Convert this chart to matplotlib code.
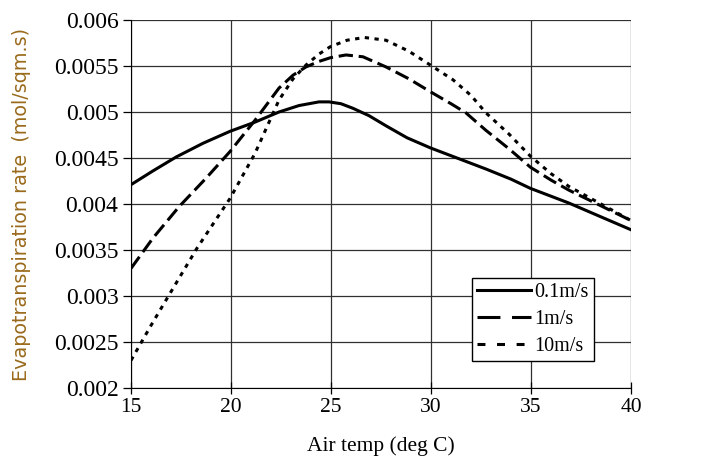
import matplotlib
matplotlib.use("Agg")
import matplotlib.pyplot as plt
from matplotlib.lines import Line2D

x_01 = [15, 16.1, 17.25, 18.6, 19.95, 21.2, 22.4, 23.4, 24.4, 24.9, 25.5, 26.1, 26.9, 27.75, 28.8, 29.97, 31.3, 32.75, 34.0, 34.97, 36.9, 38.5, 40]
y_01 = [0.00421, 0.00436, 0.00451, 0.00466, 0.00479, 0.00489, 0.00500, 0.00507, 0.00511, 0.00511, 0.00509, 0.00504, 0.00496, 0.00485, 0.00472, 0.00461, 0.00450, 0.00438, 0.00427, 0.00417, 0.00401, 0.00386, 0.00372]

x_1 = [15, 16.1, 17.4, 18.75, 19.95, 21.2, 22.4, 23.1, 23.75, 24.4, 24.97, 25.75, 26.6, 27.75, 28.9, 29.97, 31.0, 31.75, 32.75, 33.9, 34.97, 36.0, 36.9, 38.5, 40]
y_1 = [0.00330, 0.00363, 0.00397, 0.00428, 0.00457, 0.00491, 0.00526, 0.00540, 0.00549, 0.00555, 0.00559, 0.00562, 0.00560, 0.00549, 0.00536, 0.00522, 0.00509, 0.00499, 0.00480, 0.00460, 0.00440, 0.00426, 0.00415, 0.00398, 0.00382]

x_10 = [15, 16.0, 16.9, 18.3, 19.95, 21.2, 22.4, 23.1, 23.75, 24.4, 24.97, 25.8, 26.67, 27.75, 28.9, 29.97, 31.1, 32.0, 32.75, 33.9, 34.97, 36.0, 36.9, 38.5, 40]
y_10 = [0.00230, 0.00268, 0.00301, 0.00352, 0.00406, 0.00455, 0.00513, 0.00536, 0.00551, 0.00563, 0.00571, 0.00578, 0.00581, 0.00578, 0.00566, 0.00551, 0.00535, 0.00518, 0.00499, 0.00476, 0.00452, 0.00433, 0.00419, 0.00400, 0.00382]

labels = ["0.1m/s", "1m/s", "10m/s"]
x_ticks = [15, 20, 25, 30, 35, 40]
y_ticks = [0.002, 0.0025, 0.003, 0.0035, 0.004, 0.0045, 0.005, 0.0055, 0.006]
y_tick_labels = ["0.002", "0.0025", "0.003", "0.0035", "0.004", "0.0045", "0.005", "0.0055", "0.006"]

serif = "Liberation Serif"
LW = 2.2

fig = plt.figure(figsize=(7.08, 4.68), dpi=100)
ax = fig.add_axes([131/708, 1-388/468, 500/708, 368/468])

ax.plot(x_01, y_01, color="black", lw=LW, ls="-")
ax.plot(x_1, y_1, color="black", lw=LW, ls=(0, (4.7, 1.9)))
ax.plot(x_10, y_10, color="black", lw=LW, ls=(0, (1.4, 1.8)))

ax.set_xlim(15, 40)
ax.set_ylim(0.002, 0.006)
ax.set_xticks(x_ticks)
ax.set_yticks(y_ticks)
ax.set_yticklabels(y_tick_labels)
ax.grid(True, color="#303030", lw=0.9)
ax.set_axisbelow(True)

for sp in ["top", "right"]:
    ax.spines[sp].set_visible(False)
ax.tick_params(axis="x", direction="inout", length=8, width=0.9, labelsize=15.5, pad=3)
ax.tick_params(axis="y", direction="out", length=6, width=0.9, labelsize=17, pad=3)
for t in ax.get_xticklabels() + ax.get_yticklabels():
    t.set_fontfamily(serif)

ax.set_xlabel("Air temp (deg C)", fontsize=15.5, fontfamily=serif, labelpad=14)
ax.set_ylabel("Evapotranspiration rate  (mol/sqm.s)", fontsize=13.8, fontfamily="DejaVu Sans",
              color="#9a6a1c")
ax.yaxis.set_label_coords(-0.200, 0.50)

handles = [
    Line2D([], [], color="black", lw=LW, ls="-"),
    Line2D([], [], color="black", lw=LW, ls=(0, (7.5, 3.8))),
    Line2D([], [], color="black", lw=LW, ls=(0, (2.6, 3.8))),
]
leg = ax.legend(handles, labels, loc="lower left",
                bbox_to_anchor=((472-131)/500, (388-361)/368),
                prop={"family": serif, "size": 14.5}, frameon=True, fancybox=False,
                edgecolor="black", framealpha=1, handlelength=2.7, handletextpad=0.15,
                borderpad=0.25, labelspacing=0.4, borderaxespad=0)
leg.get_frame().set_linewidth(1.0)

fig.savefig("out.png", dpi=100)
